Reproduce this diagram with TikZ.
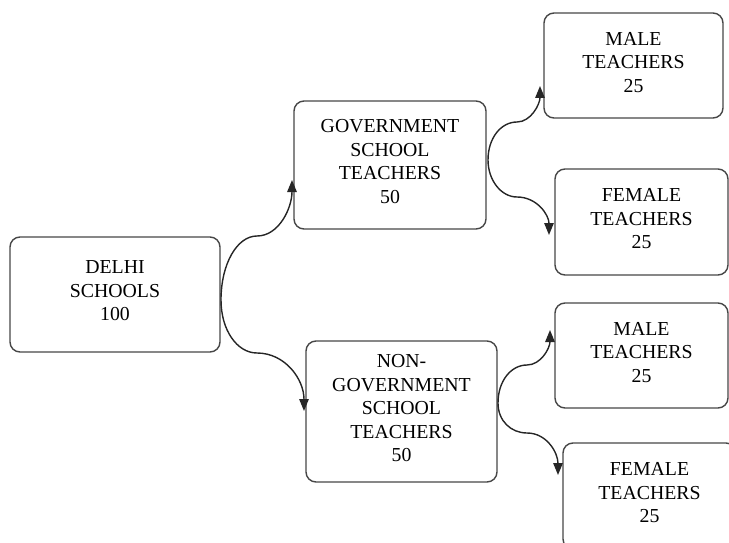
\documentclass[tikz,border=0pt]{standalone}
\usepackage{fontspec}
\setmainfont{Liberation Serif}
\usetikzlibrary{arrows.meta}
\begin{document}
\begin{tikzpicture}[x=1pt,y=-1pt,
  box/.style={draw=black!72, line width=1.4pt, rounded corners=10pt, fill=white,
    align=center, inner sep=0pt, font=\fontsize{19.8}{23.5}\selectfont},
  link/.style={draw=black!85, line width=1.4pt, -{Triangle[length=12pt,width=9.5pt]}}]
\useasboundingbox (0,0) rectangle (729,543);

% boxes
\node[box, minimum width=210pt, minimum height=115pt] (delhi) at (115,294.5)
  {DELHI\\SCHOOLS\\100\strut};
\node[box, minimum width=192pt, minimum height=128pt] (gov) at (390,165)
  {GOVERNMENT\\SCHOOL\\TEACHERS\\50\strut};
\node[box, minimum width=191pt, minimum height=141pt] (nongov) at (401.5,411.5)
  {NON-\\GOVERNMENT\\SCHOOL\\TEACHERS\\50\strut};
\node[box, minimum width=179pt, minimum height=105pt] (male1) at (633.5,65.5)
  {MALE\\TEACHERS\\25\strut};
\node[box, minimum width=173pt, minimum height=106pt] (female1) at (641.5,222)
  {FEMALE\\TEACHERS\\25\strut};
\node[box, minimum width=173pt, minimum height=105pt] (male2) at (641.5,355.5)
  {MALE\\TEACHERS\\25\strut};
\node[box, minimum width=173pt, minimum height=106pt] (female2) at (649.5,496)
  {FEMALE\\TEACHERS\\25\strut};

% fork points, bends and arrow ends
\coordinate (f1) at (221,300);
\coordinate (b1u) at (257,236);
\coordinate (b1d) at (257,353);
\coordinate (t1u) at (292,180);
\coordinate (t1d) at (304,411);

\coordinate (f2) at (488,160);
\coordinate (b2u) at (517,122);
\coordinate (b2d) at (517,197);
\coordinate (t2u) at (540,86);
\coordinate (t2d) at (549,235);

\coordinate (f3) at (498,403);
\coordinate (b3u) at (527,365);
\coordinate (b3d) at (527,433);
\coordinate (t3u) at (550,330);
\coordinate (t3d) at (558,475);

% connectors: vertical at the fork, level at the bend, vertical at the end
\draw[link] (f1) .. controls +(0,-36) and +(-20,0) .. (b1u)
                 .. controls +(22,0) and +(0,28) .. (t1u);
\draw[link] (f1) .. controls +(0,30) and +(-20,0) .. (b1d)
                 .. controls +(28,0) and +(0,-32) .. (t1d);
\draw[link] (f2) .. controls +(0,-22) and +(-16,0) .. (b2u)
                 .. controls +(14,0) and +(0,18) .. (t2u);
\draw[link] (f2) .. controls +(0,20) and +(-16,0) .. (b2d)
                 .. controls +(20,0) and +(0,-20) .. (t2d);
\draw[link] (f3) .. controls +(0,-22) and +(-16,0) .. (b3u)
                 .. controls +(14,0) and +(0,18) .. (t3u);
\draw[link] (f3) .. controls +(0,18) and +(-16,0) .. (b3d)
                 .. controls +(20,0) and +(0,-22) .. (t3d);
\end{tikzpicture}
\end{document}
